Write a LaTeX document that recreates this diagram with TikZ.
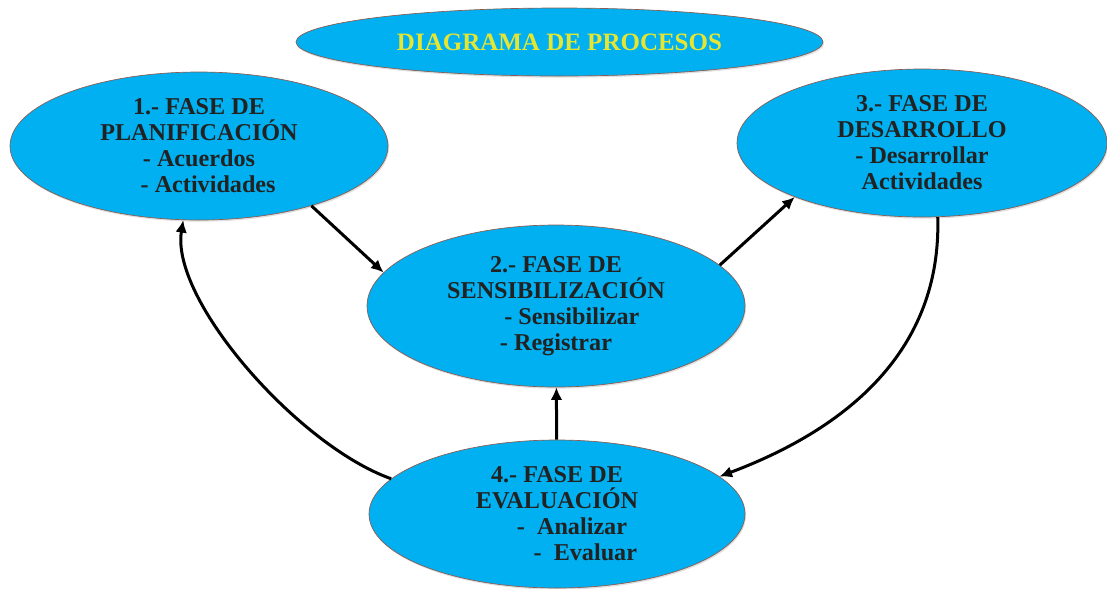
\documentclass[tikz,border=0pt]{standalone}
\usepackage{fontspec}
\setmainfont{Liberation Serif}
\usetikzlibrary{arrows.meta,shapes.geometric,shadows}
\definecolor{fasefill}{RGB}{0,176,240}
\definecolor{faseline}{RGB}{140,90,80}
\definecolor{titletext}{RGB}{230,230,50}
\definecolor{fasetext}{RGB}{34,34,34}
\begin{document}
\begin{tikzpicture}[x=0.6pt,y=-0.6pt,
  fase/.style={ellipse,fill=fasefill,draw=faseline,line width=0.4pt,inner sep=0pt,
    minimum width=#1,minimum height=88.8pt,align=center,text=fasetext,
    font=\fontsize{14.5}{15.6}\selectfont\bfseries,
    drop shadow={opacity=0.25,shadow xshift=0.6pt,shadow yshift=-1pt}},
  fase/.default=226.8pt,
  flow/.style={line width=1.8pt,-{Latex[length=7.5pt,width=7pt]}}]
        \useasboundingbox (0,0) rectangle (1107,588);
        \node [fase=316.2pt,minimum height=40.8pt,text=titletext,font=\fontsize{15}{18}\selectfont\bfseries] (titulo) at (559.5,42) {DIAGRAMA DE PROCESOS};
        \node [fase] (plan) at (199,146) {1.- FASE DE\\PLANIFICACIÓN\\- Acuerdos\\\hspace*{11pt}- Actividades};
        \node [fase=222pt] (desa) at (922,143) {3.- FASE DE\\DESARROLLO\\- Desarrollar\\Actividades};
        \node [fase,minimum height=97.2pt] (sens) at (556,306) {2.- FASE DE\\SENSIBILIZACIÓN\\\hspace*{19pt}- Sensibilizar\\- Registrar};
        \node [fase=225.6pt] (eval) at (557,514) {4.- FASE DE\\EVALUACIÓN\\\hspace*{18pt}-~ Analizar\\\hspace*{34pt}-~ Evaluar};
        \draw [flow] (plan.-28) -- (sens.169);
        \draw [flow] (sens.14) -- (desa.203);
        \draw [flow] (eval) -- (sens);
        \draw [flow] (desa.282) .. controls +(4,133) and +(128,-48) .. (eval.13);
        \draw [flow] (eval.168) .. controls +(-93,-33) and +(-13,80) .. (plan.258);
    \end{tikzpicture}
\end{document}
